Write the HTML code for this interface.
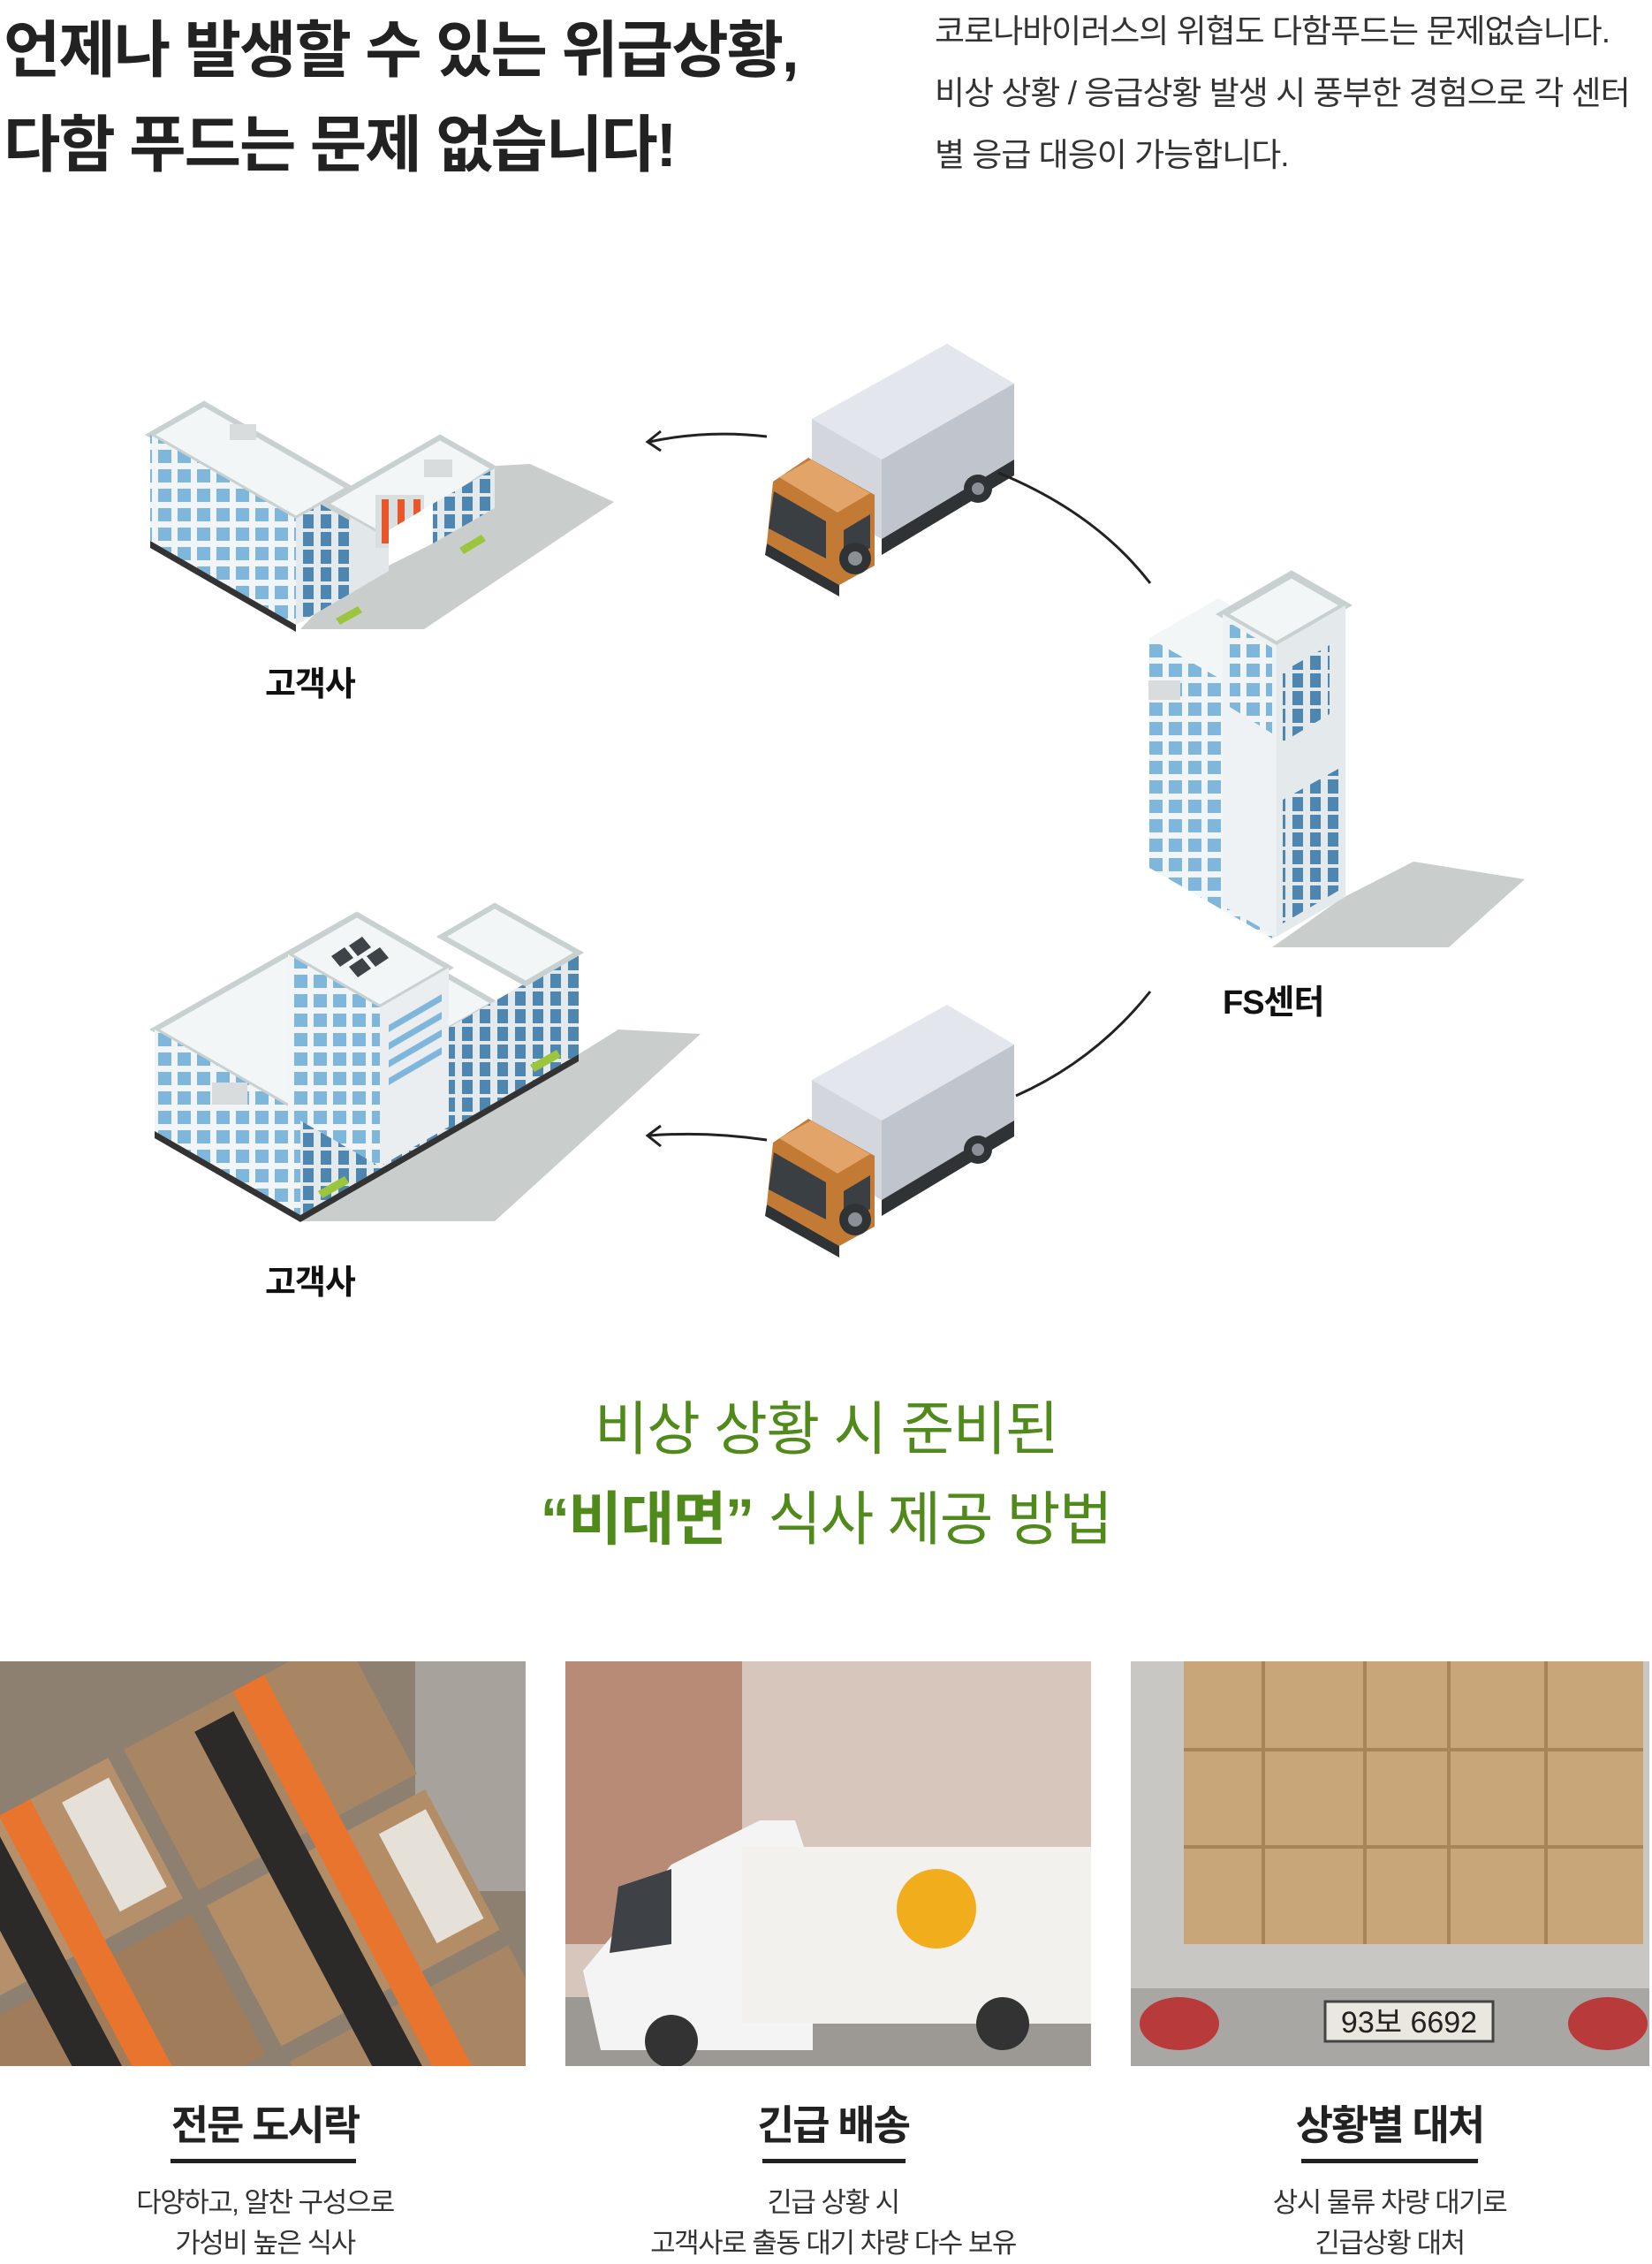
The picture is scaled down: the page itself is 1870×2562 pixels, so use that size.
<!DOCTYPE html>
<html><head><meta charset="utf-8"><style>
body{margin:0;width:1870px;height:2560px;background:#fff;position:relative;overflow:hidden;font-family:"Liberation Sans","Noto Sans CJK KR",sans-serif;color:#222}
.a{position:absolute;white-space:nowrap}
.t{font-weight:bold;font-size:70px;letter-spacing:-2px;left:4px;line-height:80px}
.r{left:1058px;font-size:37px;letter-spacing:-1px;color:#333;line-height:70px}
.g{width:1870px;left:0;text-align:center;font-size:66px;color:#4f8a1b;letter-spacing:-1.5px;line-height:90px}
.cap{text-align:center;width:600px}
.h{font-size:46px;font-weight:bold;letter-spacing:-2px;color:#222;line-height:60px}
.d{font-size:31px;color:#333;letter-spacing:-1.5px;line-height:46px}
.ul{position:absolute;height:5px;background:#222}
.lab{font-size:38px;font-weight:bold;letter-spacing:-1px;color:#111}
</style></head><body>
<div class="a t" style="top:17px">언제나 발생할 수 있는 위급상황,</div>
<div class="a t" style="top:124px">다함 푸드는 문제 없습니다!</div>
<div class="a r" style="top:1px">코로나바이러스의 위협도 다함푸드는 문제없습니다.</div>
<div class="a r" style="top:71px">비상 상황 / 응급상황 발생 시 풍부한 경험으로 각 센터</div>
<div class="a r" style="top:141px">별 응급 대응이 가능합니다.</div>

<svg class="a" style="left:0;top:0" width="1870" height="1500" viewBox="0 0 1870 1500">
<defs>
<pattern id="win" width="22" height="22" patternUnits="userSpaceOnUse"><rect width="22" height="22" fill="#f1f5f7"/><rect x="3" y="3" width="15" height="15" fill="#7fb6dc"/></pattern>
<pattern id="winD" width="20" height="20" patternUnits="userSpaceOnUse"><rect width="20" height="20" fill="#e4e9ec"/><rect x="3" y="2" width="12" height="16" fill="#4d86b0"/></pattern>
<g id="truck">
<polygon points="919,474 1072,389 1148,434 998,520" fill="#e3e6ec"/>
<polygon points="919,474 998,520 998,610 919,565" fill="#d3d7dd"/>
<polygon points="998,520 1148,434 1148,520 998,610" fill="#c0c5cd"/>
<polygon points="998,610 1148,520 1148,538 998,628" fill="#2f3336"/>
<polygon points="875,545 915,518 990,560 990,640 950,662 868,615" fill="#c27a34"/>
<polygon points="882,540 918,520 985,558 948,580" fill="#e2a468"/>
<polygon points="876,556 935,590 935,632 870,598" fill="#3a3f44"/>
<polygon points="955,600 985,582 985,620 955,638" fill="#3a3f44"/>
<polygon points="868,615 950,662 950,675 866,628" fill="#2f3336"/>
<circle cx="968" cy="632" r="18" fill="#2f3336"/><circle cx="968" cy="632" r="8" fill="#8a9096"/>
<circle cx="1107" cy="553" r="16" fill="#2f3336"/><circle cx="1107" cy="553" r="7" fill="#8a9096"/>
</g>
</defs>
<!-- building 1 -->
<polygon points="510,530 600,525 695,568 480,712 340,712" fill="#c9cecd"/>
<polygon points="335,587 170,492 231,457 396,552" fill="#f3f6f7" stroke="#c8d0d0" stroke-width="6"/>
<polygon points="335,707 170,612 170,492 335,587" fill="url(#win)"/>
<polygon points="170,612 335,707 335,715 170,620" fill="#333"/>
<polygon points="335,707 396,672 396,552 335,587" fill="url(#winD)"/>
<polygon points="440,610 368,570 498,495 560,530" fill="#f3f6f7" stroke="#c8d0d0" stroke-width="6"/>
<polygon points="396,672 440,646 440,610 396,585" fill="#e2e7e9"/>
<rect x="425" y="560" width="55" height="60" fill="#d9dede"/>
<rect x="432" y="565" width="8" height="50" fill="#e8562a"/><rect x="450" y="565" width="8" height="50" fill="#e8562a"/><rect x="468" y="565" width="8" height="50" fill="#e8562a"/>
<polygon points="490,615 560,575 560,530 490,570" fill="url(#winD)"/>
<polygon points="440,640 490,615 490,570 440,600" fill="#fff"/>
<rect x="480" y="520" width="32" height="20" fill="#d8dcdc"/>
<rect x="260" y="480" width="30" height="18" fill="#d8dcdc"/>
<polygon points="520,620 545,605 550,612 525,627" fill="#9bc53d"/>
<polygon points="380,700 405,686 410,693 385,707" fill="#9bc53d"/>
<use href="#truck"/>
<use href="#truck" transform="translate(0,748)"/>
<g fill="none" stroke="#222" stroke-width="3">
<path d="M868,494 Q800,486 735,500"/><path d="M748,488 L733,500 L748,510"/>
<path d="M1130,535 Q1240,580 1302,660"/>
<path d="M1302,1122 Q1240,1200 1150,1240"/>
<path d="M868,1290 Q800,1280 735,1285"/><path d="M748,1274 L733,1285 L748,1297"/>
</g>
<!-- FS center -->
<polygon points="1518,1017 1600,975 1726,995 1640,1072 1440,1072" fill="#c9cecd"/>
<polygon points="1440,802 1301,722 1379,677 1518,757" fill="#f3f6f7"/>
<polygon points="1440,1062 1301,982 1301,722 1440,802" fill="url(#win)"/>
<polygon points="1440,1062 1518,1017 1518,757 1440,802" fill="#e4e9ec"/>
<polygon points="1445,730 1384,695 1462,650 1523,685" fill="#f3f6f7" stroke="#c8d0d0" stroke-width="8"/>
<polygon points="1445,1060 1384,1025 1384,695 1445,730" fill="#eef2f4"/>
<polygon points="1392,705 1440,733 1440,830 1392,800" fill="url(#win)"/>
<polygon points="1445,1060 1523,1015 1523,685 1445,730" fill="#e4e9ec"/>
<polygon points="1452,1045 1515,1008 1515,870 1452,905" fill="url(#winD)"/>
<polygon points="1452,840 1505,808 1505,730 1452,760" fill="url(#winD)"/>
<rect x="1300" y="770" width="36" height="22" fill="#d8dcdc"/>
<!-- building 2 -->
<polygon points="655,1193 700,1165 793,1170 560,1382 340,1382" fill="#c9cecd"/>
<polygon points="340,1260 175,1165 395,1040 560,1135" fill="#f3f6f7" stroke="#c8d0d0" stroke-width="6"/>
<polygon points="340,1375 175,1280 175,1165 340,1260" fill="url(#win)"/>
<polygon points="175,1280 340,1375 340,1383 175,1288" fill="#333"/>
<polygon points="340,1375 655,1193 655,1078 340,1260" fill="url(#winD)"/>
<polygon points="340,1375 655,1193 655,1201 340,1383" fill="#333"/>
<polygon points="500,1060 560,1025 655,1078 595,1113" fill="#f3f6f7" stroke="#c8d0d0" stroke-width="6"/>
<polygon points="430,1140 326,1080 404,1035 508,1095" fill="#f3f6f7" stroke="#c8d0d0" stroke-width="6"/>
<polygon points="430,1320 326,1260 326,1080 430,1140" fill="url(#win)"/>
<polygon points="430,1320 508,1275 508,1095 430,1140" fill="#eaeef0"/>
<g fill="#7fb6dc"><polygon points="440,1160 500,1125 500,1133 440,1168"/><polygon points="440,1180 500,1145 500,1153 440,1188"/><polygon points="440,1200 500,1165 500,1173 440,1208"/><polygon points="440,1220 500,1185 500,1193 440,1228"/></g>
<g fill="#3d4347"><polygon points="395,1070 410,1060 420,1072 405,1082"/><polygon points="415,1082 430,1072 440,1084 425,1094"/><polygon points="375,1082 390,1072 400,1084 385,1094"/><polygon points="395,1094 410,1084 420,1096 405,1106"/></g>
<rect x="240" y="1225" width="40" height="25" fill="#d8dcdc"/>
<polygon points="600,1205 630,1188 635,1196 605,1213" fill="#9bc53d"/>
<polygon points="360,1348 390,1331 395,1339 365,1356" fill="#9bc53d"/>
</svg>
<div class="a lab" style="left:300px;top:743px">고객사</div>
<div class="a lab" style="left:300px;top:1420px">고객사</div>
<div class="a lab" style="left:1384px;top:1103px">FS센터</div>

<div class="a g" style="top:1572px;left:0">비상 상황 시 준비된</div>
<div class="a g" style="top:1674px;left:0"><b>“비대면”</b> 식사 제공 방법</div>

<svg class="a" style="left:0;top:1880px" width="1870" height="458">
<defs>
<clipPath id="c1"><rect x="0" y="0" width="595" height="458"/></clipPath>
<clipPath id="c2"><rect x="640" y="0" width="595" height="458"/></clipPath>
</defs>
<g clip-path="url(#c1)">
<rect x="0" y="0" width="595" height="458" fill="#8d8070"/>
<rect x="470" y="0" width="125" height="260" fill="#a7a29c"/>
<g transform="rotate(-28 300 230)">
<rect x="-80" y="40" width="280" height="180" fill="#b6906a"/><rect x="220" y="40" width="280" height="180" fill="#a98663"/>
<rect x="-80" y="240" width="280" height="180" fill="#a07c5a"/><rect x="220" y="240" width="280" height="180" fill="#b38d66"/>
<rect x="-80" y="440" width="280" height="180" fill="#9a7756"/><rect x="220" y="440" width="280" height="180" fill="#a98663"/>
<rect x="60" y="40" width="40" height="580" fill="#e8742d"/><rect x="360" y="40" width="40" height="580" fill="#e8742d"/>
<rect x="0" y="60" width="50" height="560" fill="#2c2a28"/><rect x="300" y="60" width="50" height="560" fill="#2c2a28"/>
<rect x="130" y="60" width="60" height="140" fill="#e5e0d8"/><rect x="430" y="260" width="60" height="140" fill="#e5e0d8"/>
</g>
</g>
<g clip-path="url(#c2)">
<rect x="640" y="0" width="595" height="458" fill="#d7c6bb"/>
<rect x="640" y="0" width="200" height="320" fill="#b88b76"/>
<rect x="640" y="380" width="595" height="78" fill="#9c9894"/>
<polygon points="760,230 860,180 900,180 920,240 920,440 680,440 660,350" fill="#f4f4f4"/>
<rect x="840" y="210" width="395" height="200" fill="#f2f1ee"/>
<polygon points="700,255 760,235 760,320 690,330" fill="#3e4146"/>
<circle cx="1060" cy="280" r="45" fill="#f2ad1d"/>
<circle cx="760" cy="430" r="30" fill="#333"/><circle cx="1135" cy="410" r="30" fill="#333"/>
</g>
<rect x="1280" y="0" width="587" height="458" fill="#c9c7c3"/>
<rect x="1340" y="0" width="520" height="320" fill="#c8a67a"/>
<g stroke="#a88556" stroke-width="4" fill="none"><path d="M1340,100 H1860 M1340,210 H1860 M1430,0 V320 M1545,0 V320 M1640,0 V320 M1750,0 V320"/></g>
<rect x="1280" y="370" width="587" height="88" fill="#a9a7a3"/>
<ellipse cx="1335" cy="410" rx="45" ry="30" fill="#b83a3a"/><ellipse cx="1820" cy="410" rx="45" ry="30" fill="#b83a3a"/>
<rect x="1500" y="385" width="190" height="45" fill="#e9e7df" stroke="#444" stroke-width="3"/>
<text x="1595" y="420" text-anchor="middle" font-size="34" fill="#222" font-family="Liberation Sans,Noto Sans CJK KR,sans-serif">93보 6692</text>
</svg>

<div class="a cap h" style="left:0;top:2375px">전문 도시락</div>
<div class="ul" style="left:193px;width:210px;top:2443px"></div>
<div class="a cap d" style="left:0;top:2470px">다양하고, 알찬 구성으로</div>
<div class="a cap d" style="left:0;top:2516px">가성비 높은 식사</div>

<div class="a cap h" style="left:643px;top:2375px">긴급 배송</div>
<div class="ul" style="left:863px;width:162px;top:2443px"></div>
<div class="a cap d" style="left:643px;top:2470px">긴급 상황 시</div>
<div class="a cap d" style="left:643px;top:2516px">고객사로 출동 대기 차량 다수 보유</div>

<div class="a cap h" style="left:1273px;top:2375px">상황별 대처</div>
<div class="ul" style="left:1473px;width:200px;top:2443px"></div>
<div class="a cap d" style="left:1273px;top:2470px">상시 물류 차량 대기로</div>
<div class="a cap d" style="left:1273px;top:2516px">긴급상황 대처</div>
</body></html>
